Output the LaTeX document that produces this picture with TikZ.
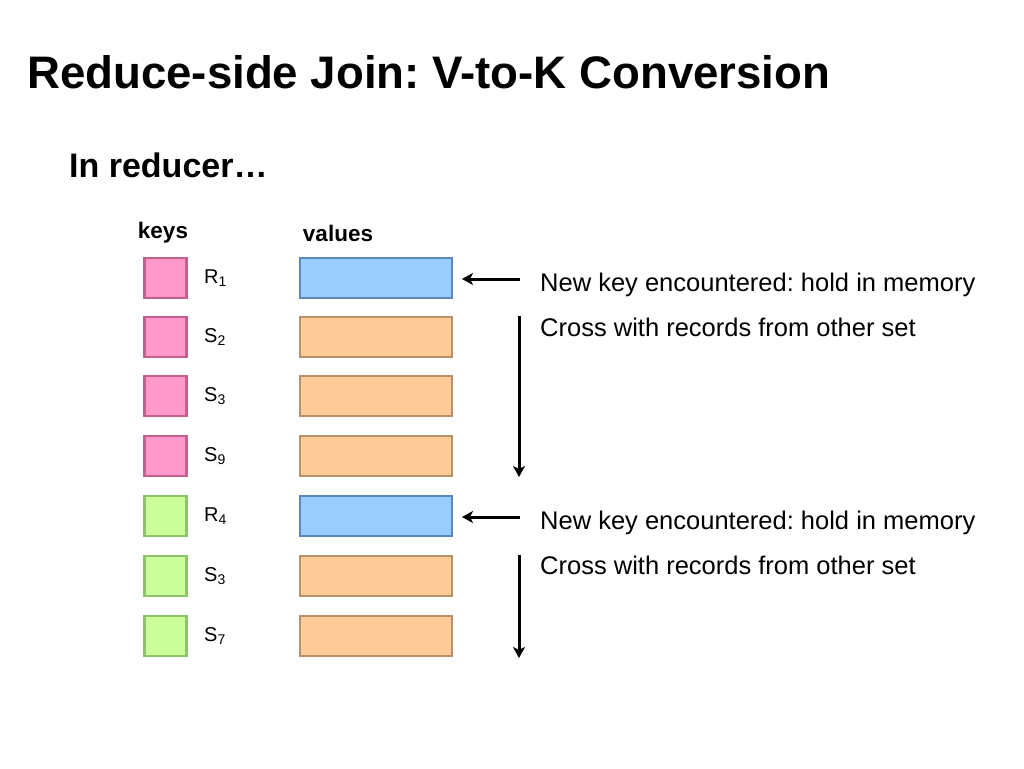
\documentclass[tikz,border=0pt]{standalone}
\usepackage{fontspec}
\setmainfont{Liberation Sans}
\usetikzlibrary{arrows.meta}
\begin{document}
\frenchspacing
\begin{tikzpicture}[x=1pt,y=-1pt,
  keybox/.style={draw, line width=2.4pt, minimum width=42pt, minimum height=40pt, inner sep=0pt},
  pinkkey/.style={keybox, fill={rgb,255:red,255;green,153;blue,204}, draw={rgb,255:red,196;green,96;blue,140}},
  greenkey/.style={keybox, fill={rgb,255:red,204;green,255;blue,153}, draw={rgb,255:red,140;green,196;blue,106}},
  valbox/.style={draw, line width=2.4pt, minimum width=152pt, minimum height=40pt, inner sep=0pt},
  blueval/.style={valbox, fill={rgb,255:red,153;green,204;blue,255}, draw={rgb,255:red,91;green,135;blue,189}},
  orangeval/.style={valbox, fill={rgb,255:red,255;green,204;blue,153}, draw={rgb,255:red,184;green,146;blue,106}},
  klabel/.style={font=\fontsize{20}{22}\selectfont, anchor=west, inner sep=0pt},
  note/.style={font=\fontsize{25.5}{28}\selectfont, anchor=west, inner sep=0pt},
  arr/.style={-{Stealth[length=11pt,width=12pt,inset=3pt]}, line width=3pt}
]
\useasboundingbox (0,0) rectangle (1024,768);
\fill[white] (0,0) rectangle (1024,768);
\node[anchor=west, inner sep=0pt, font=\bfseries\fontsize{45.6}{50}\selectfont] (title) at (27,72) {Reduce-side Join: V-to-K Conversion};
\node[anchor=west, inner sep=0pt, font=\bfseries\fontsize{34}{36}\selectfont] (sub) at (69,165) {In reducer…};
\node[inner sep=0pt, font=\bfseries\fontsize{22.5}{24}\selectfont] (keys) at (163,233) {keys};
\node[inner sep=0pt, font=\bfseries\fontsize{22.5}{24}\selectfont] (values) at (338,233) {values};

\node[pinkkey] (k1) at (165.5,278) {};
\node[pinkkey] (k2) at (165.5,337) {};
\node[pinkkey] (k3) at (165.5,396) {};
\node[pinkkey] (k4) at (165.5,456) {};
\node[greenkey] (k5) at (165.5,516) {};
\node[greenkey] (k6) at (165.5,576) {};
\node[greenkey] (k7) at (165.5,636) {};

\node[klabel] (l1) at (204,278) {R\textsubscript{1}};
\node[klabel] (l2) at (204,337) {S\textsubscript{2}};
\node[klabel] (l3) at (204,396) {S\textsubscript{3}};
\node[klabel] (l4) at (204,456) {S\textsubscript{9}};
\node[klabel] (l5) at (204,516) {R\textsubscript{4}};
\node[klabel] (l6) at (204,576) {S\textsubscript{3}};
\node[klabel] (l7) at (204,636) {S\textsubscript{7}};

\node[blueval] (v1) at (376,278) {};
\node[orangeval] (v2) at (376,337) {};
\node[orangeval] (v3) at (376,396) {};
\node[orangeval] (v4) at (376,456) {};
\node[blueval] (v5) at (376,516) {};
\node[orangeval] (v6) at (376,576) {};
\node[orangeval] (v7) at (376,636) {};

\node[note] (n1) at (540,285) {New key encountered: hold in memory};
\node[note] (c1) at (540,327) {Cross with records from other set};
\node[note] (n2) at (540,523) {New key encountered: hold in memory};
\node[note] (c2) at (540,565) {Cross with records from other set};

\coordinate (a1s) at (520,279);
\coordinate (a1e) at (462,279);
\coordinate (d1s) at (519,316);
\coordinate (d1e) at (519,477);
\coordinate (a2s) at (520,517);
\coordinate (a2e) at (462,517);
\coordinate (d2s) at (519,555);
\coordinate (d2e) at (519,658);
\draw[arr] (a1s) -- (a1e);
\draw[arr] (d1s) -- (d1e);
\draw[arr] (a2s) -- (a2e);
\draw[arr] (d2s) -- (d2e);
\end{tikzpicture}
\end{document}
